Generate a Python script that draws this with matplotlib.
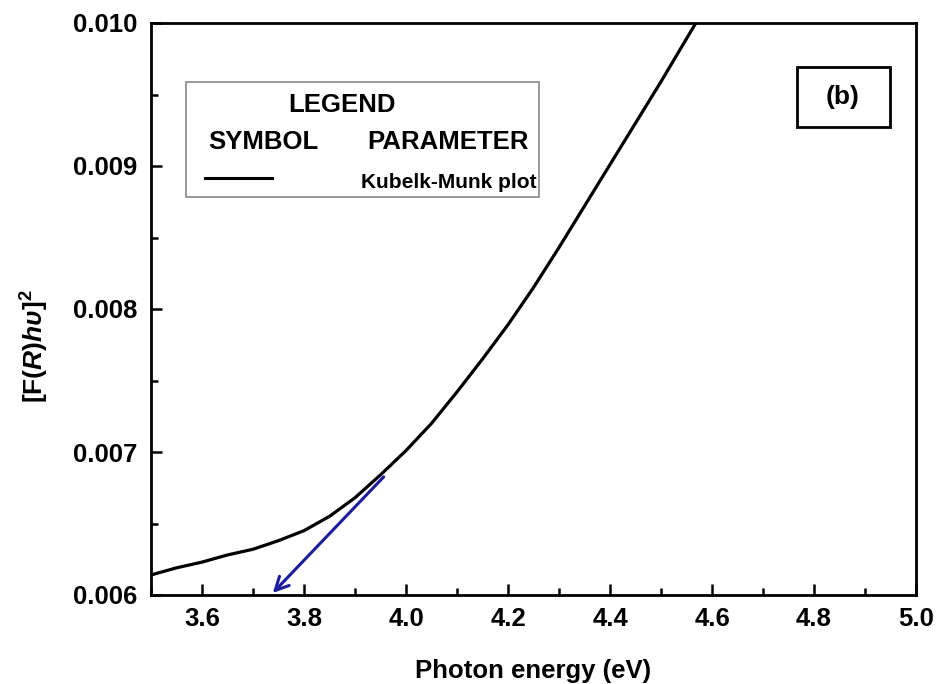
import matplotlib
matplotlib.use("Agg")
import matplotlib.pyplot as plt
from matplotlib.ticker import MultipleLocator

# Kubelka-Munk curve, values
energy = [3.45, 3.50, 3.55, 3.60, 3.65, 3.70, 3.75, 3.80, 3.85, 3.90, 3.95, 4.00,
          4.05, 4.10, 4.15, 4.20, 4.25, 4.30, 4.35, 4.40, 4.45, 4.50, 4.55, 4.60]
km = [0.00610, 0.00614, 0.00619, 0.00623, 0.00628, 0.00632, 0.00638, 0.00645, 0.00655, 0.00668, 0.00684, 0.00701,
      0.00720, 0.00742, 0.00765, 0.00789, 0.00815, 0.00843, 0.00872, 0.00901, 0.00930, 0.00959, 0.00989, 0.01019]

# tangent arrow
arrow_start = (3.96, 0.00684)
arrow_end = (3.735, 0.0060)

plt.rcParams['font.family'] = 'Liberation Sans'
plt.rcParams['font.weight'] = 'bold'
plt.rcParams['mathtext.fontset'] = 'custom'
plt.rcParams['mathtext.rm'] = 'Liberation Sans:bold'
plt.rcParams['mathtext.it'] = 'Liberation Sans:italic:bold'
plt.rcParams['mathtext.bf'] = 'Liberation Sans:bold'

fig = plt.figure(figsize=(9.36, 6.84), dpi=100)
ax = fig.add_axes([151/936, 1-595/684, (916-151)/936, (595-23)/684])

ax.plot(energy, km, color='black', lw=2.3)
ax.annotate('', xy=arrow_end, xytext=arrow_start,
            arrowprops=dict(arrowstyle='->', color='#1c1c9c', lw=2.2, mutation_scale=24))

ax.set_xlim(3.5, 5.0)
ax.set_ylim(0.006, 0.010)
ax.xaxis.set_major_locator(MultipleLocator(0.2))
ax.xaxis.set_minor_locator(MultipleLocator(0.1))
ax.yaxis.set_major_locator(MultipleLocator(0.001))
ax.yaxis.set_minor_locator(MultipleLocator(0.0005))
ax.xaxis.set_major_formatter(plt.FormatStrFormatter('%.1f'))
ax.yaxis.set_major_formatter(plt.FormatStrFormatter('%.3f'))
ax.tick_params(which='both', direction='in', width=1.8, labelsize=18.5)
ax.tick_params(axis='x', pad=9)
ax.tick_params(axis='y', pad=10)
ax.tick_params(which='major', length=8)
ax.tick_params(which='minor', length=5)
for s in ax.spines.values():
    s.set_linewidth(2)

fig.text(533/936, 1-671/684, 'Photon energy (eV)', ha='center', va='center', fontsize=18.5, fontweight='bold')
fig.text(35/936, 1-346/684, r'$\mathrm{[F(}\mathit{R}\mathrm{)}\mathit{h\upsilon}\mathrm{]}^{2}$',
         ha='center', va='center', rotation=90, fontsize=19)

# legend box drawn by hand like the original
def fx(px):
    return (px-151)/(916-151)
def fy(py):
    return (595-py)/(595-23)

ax.add_patch(plt.Rectangle((fx(186), fy(197)), fx(539)-fx(186), fy(82)-fy(197), transform=ax.transAxes,
                           fill=False, edgecolor='#888888', lw=1.2))
ax.text(fx(342), fy(105), 'LEGEND', transform=ax.transAxes, ha='center', va='center', fontsize=18.5)
ax.text(fx(263), fy(142), 'SYMBOL', transform=ax.transAxes, ha='center', va='center', fontsize=18.5)
ax.text(fx(448), fy(142), 'PARAMETER', transform=ax.transAxes, ha='center', va='center', fontsize=18.5)
ax.plot([fx(205), fx(272)], [fy(178), fy(178)], transform=ax.transAxes, color='black', lw=2.2)
ax.text(fx(449), fy(182), 'Kubelk-Munk plot', transform=ax.transAxes, ha='center', va='center', fontsize=15)

ax.text(fx(843), fy(97), '(b)', transform=ax.transAxes, ha='center', va='center', fontsize=19)
ax.add_patch(plt.Rectangle((fx(797), fy(127)), fx(890)-fx(797), fy(67)-fy(127), transform=ax.transAxes,
                           fill=False, edgecolor='black', lw=2))

fig.savefig('out.png', dpi=100)
